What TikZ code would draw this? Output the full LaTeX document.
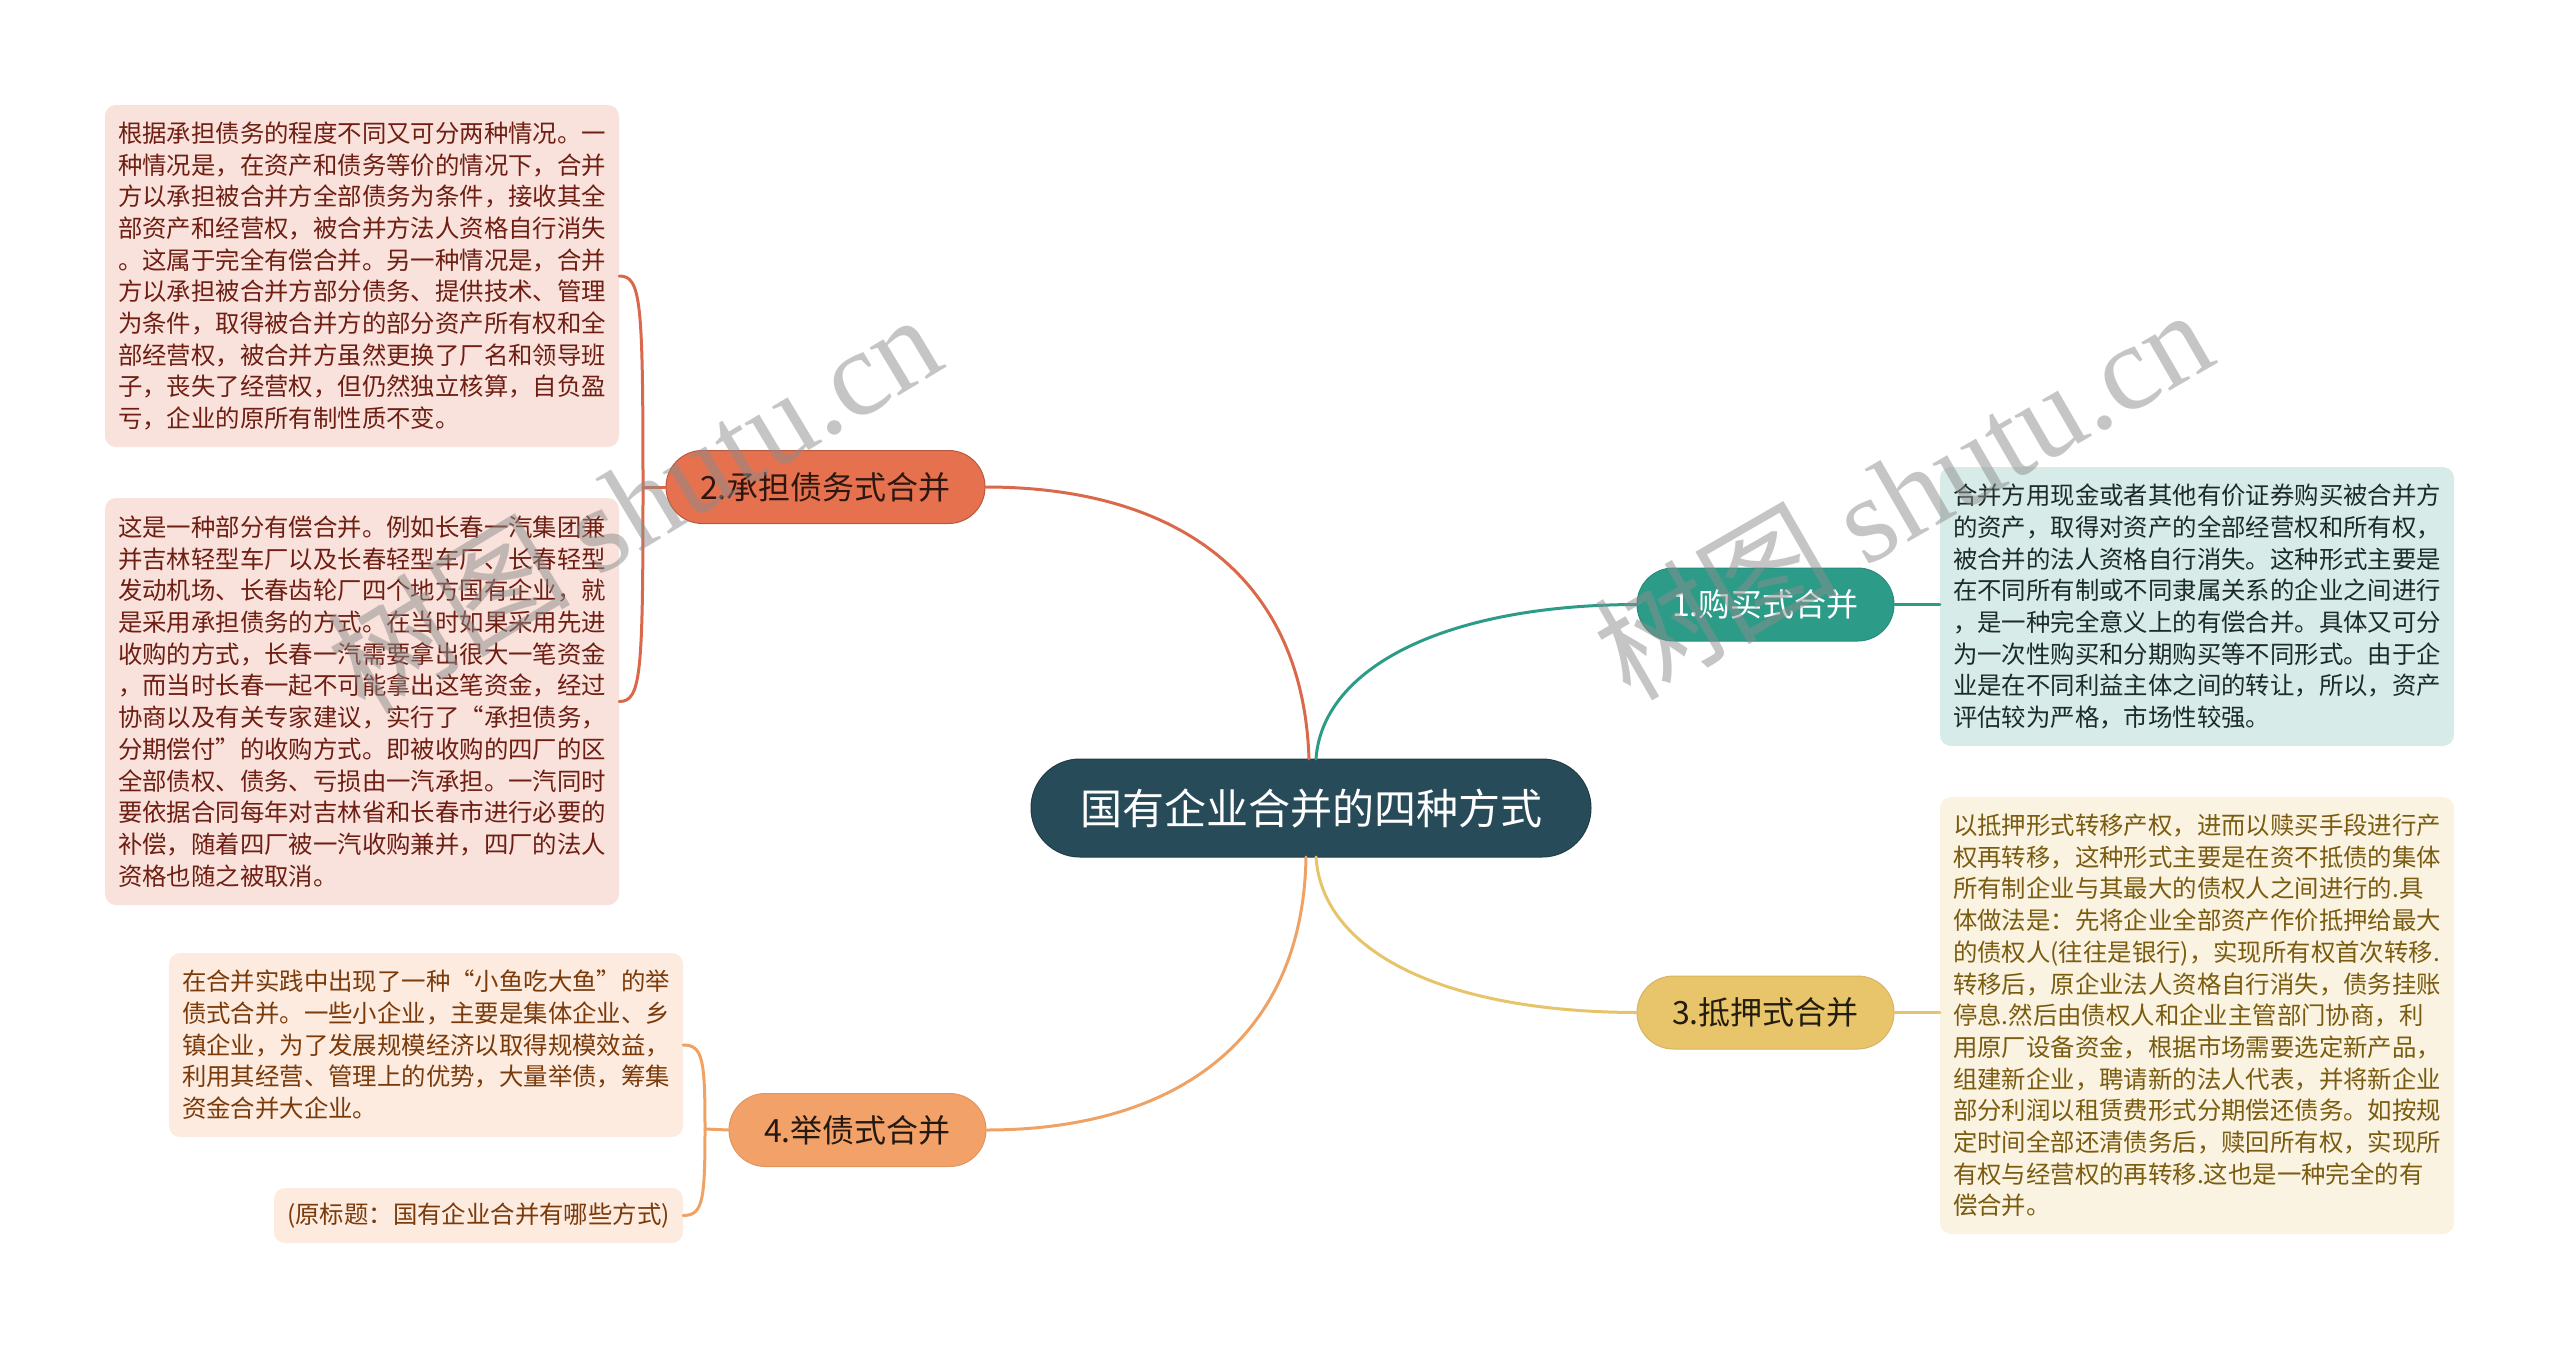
\documentclass[tikz,border=0pt]{standalone}
\usepackage{fontspec}
\setmainfont{Noto Sans CJK SC}
\newfontfamily\wmlatin{Liberation Serif}
\usetikzlibrary{calc}
\definecolor{cCen}{HTML}{284B5A}
\definecolor{cOne}{HTML}{2C9C89}
\definecolor{cTwo}{HTML}{E6714F}
\definecolor{cTwoL}{HTML}{D9694A}
\definecolor{cThree}{HTML}{E8C46A}
\definecolor{cThreeL}{HTML}{E6C46A}
\definecolor{cFour}{HTML}{F2A268}
\definecolor{cFourL}{HTML}{EFA263}
\definecolor{fPink}{HTML}{FAE2DC}
\definecolor{tPink}{HTML}{6E1E12}
\definecolor{fTeal}{HTML}{D7EBE8}
\definecolor{tTeal}{HTML}{1C2A28}
\definecolor{fCream}{HTML}{FBF3E2}
\definecolor{tCream}{HTML}{7A5C10}
\definecolor{fPeach}{HTML}{FDEBDF}
\definecolor{tPeach}{HTML}{7A3A0A}
\begin{document}
\begin{tikzpicture}[x=1pt,y=-1pt,
  central/.style={fill=cCen, draw=cCen!80!black, line width=1pt, rounded corners=48.9pt,
    minimum width=560pt, minimum height=98pt, inner sep=0pt, text=white,
    font=\fontsize{42}{50}\selectfont},
  branch/.style={rounded corners=36.4pt, minimum height=73pt, inner sep=0pt,
    line width=1pt, font=\fontsize{32}{38}\selectfont},
  textbox/.style={rounded corners=11pt, inner xsep=13pt, inner ysep=0pt, align=left,
    minimum width=514pt, font=\fontsize{24.4}{31.7}\selectfont},
  conn/.style={line width=3pt, line cap=round},
  wm/.style={text=black!45, text opacity=0.5, inner sep=0pt,
    font=\fontsize{122}{130}\selectfont}
]
\useasboundingbox (0,0) rectangle (2560,1349);

% central
\node[central] (c) at (1311,808) {国有企业合并的四种方式};

% branches
\node[branch, fill=cOne, draw=cOne!90!black, text=white, minimum width=257pt] (n1) at (1765.5,604.5) {1.购买式合并};
\node[branch, fill=cTwo, draw=cTwoL!85!black, text=black!80!cTwo, minimum width=319pt] (n2) at (825.5,487) {2.承担债务式合并};
\node[branch, fill=cThree, draw=cThree!92!black, text=black!85!cThree, minimum width=257pt] (n3) at (1765.5,1012.5) {3.抵押式合并};
\node[branch, fill=cFour, draw=cFour!92!black, text=black!85!cFour, minimum width=257pt] (n4) at (857.5,1130) {4.举债式合并};

% text boxes
\node[textbox, fill=fPink, text=tPink, text width=488pt, minimum height=342pt] (bA) at (362,276) {根据承担债务的程度不同又可分两种情况。一\\种情况是，在资产和债务等价的情况下，合并\\方以承担被合并方全部债务为条件，接收其全\\部资产和经营权，被合并方法人资格自行消失\\。这属于完全有偿合并。另一种情况是，合并\\方以承担被合并方部分债务、提供技术、管理\\为条件，取得被合并方的部分资产所有权和全\\部经营权，被合并方虽然更换了厂名和领导班\\子，丧失了经营权，但仍然独立核算，自负盈\\亏，企业的原所有制性质不变。};

\node[textbox, fill=fPink, text=tPink, text width=488pt, minimum height=407pt] (bB) at (362,701.5) {这是一种部分有偿合并。例如长春一汽集团兼\\并吉林轻型车厂以及长春轻型车厂、长春轻型\\发动机场、长春齿轮厂四个地方国有企业，就\\是采用承担债务的方式。在当时如果采用先进\\收购的方式，长春一汽需要拿出很大一笔资金\\，而当时长春一起不可能拿出这笔资金，经过\\协商以及有关专家建议，实行了“承担债务，\\分期偿付”的收购方式。即被收购的四厂的区\\全部债权、债务、亏损由一汽承担。一汽同时\\要依据合同每年对吉林省和长春市进行必要的\\补偿，随着四厂被一汽收购兼并，四厂的法人\\资格也随之被取消。};

\node[textbox, fill=fTeal, text=tTeal, text width=488pt, minimum height=279pt] (bC) at (2197,606.5) {合并方用现金或者其他有价证券购买被合并方\\的资产，取得对资产的全部经营权和所有权，\\被合并的法人资格自行消失。这种形式主要是\\在不同所有制或不同隶属关系的企业之间进行\\，是一种完全意义上的有偿合并。具体又可分\\为一次性购买和分期购买等不同形式。由于企\\业是在不同利益主体之间的转让，所以，资产\\评估较为严格，市场性较强。};

\node[textbox, fill=fCream, text=tCream, text width=488pt, minimum height=437pt] (bD) at (2197,1015.5) {以抵押形式转移产权，进而以赎买手段进行产\\权再转移，这种形式主要是在资不抵债的集体\\所有制企业与其最大的债权人之间进行的.具\\体做法是：先将企业全部资产作价抵押给最大\\的债权人(往往是银行)，实现所有权首次转移.\\转移后，原企业法人资格自行消失，债务挂账\\停息.然后由债权人和企业主管部门协商，利\\用原厂设备资金，根据市场需要选定新产品，\\组建新企业，聘请新的法人代表，并将新企业\\部分利润以租赁费形式分期偿还债务。如按规\\定时间全部还清债务后，赎回所有权，实现所\\有权与经营权的再转移.这也是一种完全的有\\偿合并。};

\node[textbox, fill=fPeach, text=tPeach, text width=488pt, minimum height=184pt] (bE) at (426,1045) {在合并实践中出现了一种“小鱼吃大鱼”的举\\债式合并。一些小企业，主要是集体企业、乡\\镇企业，为了发展规模经济以取得规模效益，\\利用其经营、管理上的优势，大量举债，筹集\\资金合并大企业。};

\node[textbox, fill=fPeach, text=tPeach, minimum width=409pt, minimum height=55pt, align=center] (bF) at (478.5,1215.5) {(原标题：国有企业合并有哪些方式)};

% main connectors
\coordinate (ct2) at (1309,759);
\coordinate (ct1) at (1316,759);
\coordinate (cb4) at (1306,857);
\coordinate (cb3) at (1316,857);
\draw[conn, cTwoL] (ct2) .. controls (1303,575) and (1175,487) .. (n2.east);
\draw[conn, cOne] (ct1) .. controls (1322,670) and (1440,605) .. (n1.west);
\draw[conn, cFourL] (cb4) .. controls (1303,1040) and (1175,1130) .. (n4.east);
\draw[conn, cThreeL] (cb3) .. controls (1322,950) and (1440,1012) .. (n3.west);

% leaf connectors
\draw[conn, cOne] (n1.east) -- (bC.west |- n1.east);
\draw[conn, cThreeL] (n3.east) -- (bD.west |- n3.east);

\coordinate (j2) at (643,487);
\draw[conn, cTwoL] (n2.west) -- (j2);
\draw[conn, cTwoL] (j2) .. controls (643,300) and (641,276) .. (bA.east);
\draw[conn, cTwoL] (j2) .. controls (643,675) and (641,701.5) .. (bB.east);

\coordinate (j4) at (705,1129);
\draw[conn, cFourL] (n4.west) -- (j4);
\draw[conn, cFourL] (j4) .. controls (705,1060) and (703,1045) .. (bE.east);
\draw[conn, cFourL] (j4) .. controls (705,1200) and (703,1215.5) .. (bF.east);

% watermarks
\node[wm, anchor=base west, rotate=31] (wm1) at (365,717) {树图 {\wmlatin shutu.cn}};
\node[wm, anchor=base west, rotate=30] (wm2) at (1630,703) {树图 {\wmlatin shutu.cn}};
\end{tikzpicture}
\end{document}
